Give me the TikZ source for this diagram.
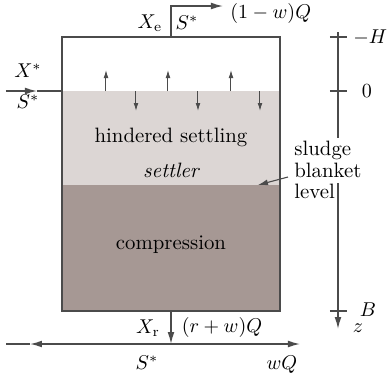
\documentclass[tikz,border=0pt]{standalone}
\usetikzlibrary{arrows.meta}
\definecolor{lightsl}{RGB}{220,214,212}
\definecolor{darksl}{RGB}{166,152,148}
\definecolor{ln}{RGB}{75,75,75}
\tikzset{
  ln/.style={draw=ln, line width=0.7pt},
  bigarr/.style={ln, -{Latex[length=6pt,width=3.4pt]}},
  smallarr/.style={draw=ln, line width=0.5pt, -{Latex[length=4pt,width=2.4pt]}},
  lbl/.style={inner sep=0.5pt},
}
\begin{document}
\begin{tikzpicture}[x=0.5pt,y=-0.5pt,font=\fontsize{10.4}{12.4}\selectfont]
\useasboundingbox (0,0) rectangle (387,382);
% tank fill
\fill[lightsl] (62,91) rectangle (280,185);
\fill[darksl] (62,185) rectangle (280,311);
\draw[ln] (62,37) rectangle (280,311);
% named coordinates
\coordinate (feedL) at (6,91);
\coordinate (feedA) at (37,91);
\coordinate (feedR) at (62,91);
\coordinate (topB) at (171,37);
\coordinate (topC) at (171,6);
\coordinate (topE) at (223,6);
\coordinate (botT) at (171,311);
\coordinate (botJ) at (171,344);
\coordinate (botLA) at (30,344);
\coordinate (botL) at (6,344);
\coordinate (botR) at (300,344);
% feed
\draw[bigarr] (feedL) -- (feedA);
\draw[ln] (feedA) -- (feedR);
\node[lbl] (xs) at (28,71) {$X^*$};
\node[lbl] (ss) at (28,102) {$S^*$};
% effluent
\draw[bigarr] (topB) -- (topC) -- (topE);
\node[lbl] (xe) at (150,23) {$X_{\mathrm{e}}$};
\node[lbl] (se) at (187,23) {$S^*$};
\node[lbl, anchor=west] (qe) at (229,13) {$(1-w)Q$};
% small arrows at feed level
\foreach \x in {106,168,231}{\draw[smallarr] (\x,91) -- (\x,70);}
\foreach \x in {136,198,260}{\draw[smallarr] (\x,91) -- (\x,111);}
% underflow
\draw[bigarr] (botT) -- (botJ);
\draw[bigarr] (botJ) -- (botLA);
\draw[ln] (botLA) -- (botL);
\draw[bigarr] (botJ) -- (botR);
\node[lbl] (xr) at (148,328) {$X_{\mathrm{r}}$};
\node[lbl] (qr) at (222,327) {$(r+w)Q$};
\node[lbl] (sb) at (147,363) {$S^*$};
\node[lbl] (wq) at (282,365) {$wQ$};
% zone texts
\node (hs) at (171,137) {hindered settling};
\node (st) at (171,170) {\itshape settler};
\node (cp) at (171,245) {compression};
% axis
\coordinate (axT) at (338,32);
\coordinate (axG1) at (338,138);
\coordinate (axG2) at (338,183);
\coordinate (axB) at (338,329);
\draw[ln] (axT) -- (axG1);
\draw[bigarr] (axG2) -- (axB);
\draw[ln] (330,37) -- (347,37);
\draw[ln] (330,91) -- (347,91);
\draw[ln] (330,311) -- (347,311);
\node[lbl, anchor=west] (mh) at (352,37) {$-H$};
\node[lbl] (zero) at (367,91) {$0$};
\node[lbl] (bb) at (368,310) {$B$};
\node[lbl] (zz) at (358,328) {$z$};
% sludge blanket label
\node[anchor=west, align=left, inner sep=0pt] (sbl) at (294,170) {sludge\\[-1.5pt]blanket\\[-1.5pt]level};
\draw[ln, line width=0.55pt, -{Latex[length=5pt,width=3pt]}] (288,177) -- (258,185);
\end{tikzpicture}
\end{document}
